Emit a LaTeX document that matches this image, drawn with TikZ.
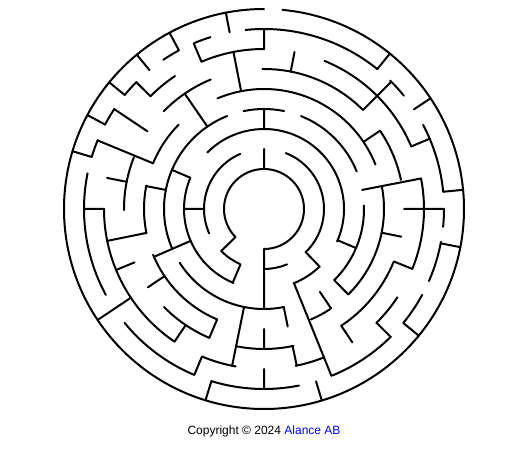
\documentclass[tikz,border=0pt]{standalone}
\usepackage{fontspec}
\setmainfont{Liberation Sans}
\begin{document}
\begin{tikzpicture}[x=1pt,y=1pt,wall/.style={line width=2pt,line cap=round,line join=round}]
		\useasboundingbox (0,0) rectangle (512,448);
		\begin{scope}[shift={(264,239)}]
		% circles, inside out
		\draw[wall] (-90:40) arc (-90:224.5:40);
		\draw[wall] (113.3:60) arc (113.3:204:60) (224.6:60) arc (224.6:246:60) (270:60) arc (270:292.6:60) (-46:60) arc (-46:68.7:60);
		\draw[wall] (-24:80) arc (-24:135:80) (157:80) arc (157:247.6:80) (291.7:80) arc (291.7:314:80);
		\draw[wall] (78.4:100) arc (78.4:101.8:100) (111.6:100) arc (111.6:203:100) (212.5:100) arc (212.5:281.5:100) (-45.4:100) arc (-45.4:2:100) (22:100) arc (22:68.3:100);
		\draw[wall] (21.8:120) arc (21.8:112.8:120) (-45.4:120) arc (-45.4:10.7:120) (135.3:120) arc (135.3:157.7:120) (168.7:120) arc (168.7:191.7:120) (202.4:120) arc (202.4:247:120) (293:120) arc (293:303.4:120);
		\draw[wall] (45:140) arc (45:90.7:140) (12:140) arc (12:33.5:140) (112.4:140) arc (112.4:135.7:140) (158.3:140) arc (158.3:180.5:140) (224.4:140) arc (224.4:247:140) (259:140) arc (259:282.2:140) (303.5:140) arc (303.5:337.7:140);
		\draw[wall] (23:160) arc (23:67.8:160) (-21.8:160) arc (-21.8:11:160) (90:160) arc (90:113:160) (123.8:160) arc (123.8:135.3:160) (180:160) arc (180:236:160) (247.3:160) arc (247.3:259.8:160) (281.4:160) arc (281.4:292:160) (314.6:160) arc (314.6:326.5:160);
		\draw[wall] (51:180) arc (51:95.9:180) (107.3:180) arc (107.3:112.6:180) (118.4:180) arc (118.4:124:180) (135.1:180) arc (135.1:140.7:180) (146.2:180) arc (146.2:152.1:180) (157.5:180) arc (157.5:163.2:180) (168.6:180) arc (168.6:208.5:180) (219.2:180) arc (219.2:247.1:180) (253:180) arc (253:281.2:180) (292.4:180) arc (292.4:314.8:180) (320.8:180) arc (320.8:331.5:180) (336.4:180) arc (336.4:349.5:180) (-5.7:180) arc (-5.7:0:180) (5.5:180) arc (5.5:27.9:180) (39:180) arc (39:45.5:180);
		\draw[wall] (90:200) arc (90:444.7:200); % outer wall, way in at the top
		% radial walls
		\draw[wall] (101:180)--(101:200) (118.2:180)--(118.2:200) (129.5:180)--(129.5:200) (140.7:180)--(140.7:200) (152:180)--(152:200) (163.2:180)--(163.2:200) (253:180)--(253:200) (286.8:180)--(286.8:200) (320.7:180)--(320.7:200) (349:180)--(349:200) (5.5:180)--(5.5:200) (33.6:180)--(33.6:200) (51:180)--(51:200) (213.7:160)--(213.7:200);
		\draw[wall] (90:160)--(90:180) (113:160)--(113:180) (135.2:160)--(135.2:180) (180:160)--(180:180) (247.2:160)--(247.2:180) (270:160)--(270:180) (314.7:160)--(314.7:180) (23:160)--(23:180) (146.3:140)--(146.3:180) (157.6:120)--(157.6:180) (0:140)--(0:180) (45:140)--(45:180) (292:80)--(292:180);
		\draw[wall] (79:140)--(79:160) (101:120)--(101:160) (168.8:140)--(168.8:160) (191.5:120)--(191.5:160) (202.4:140)--(202.4:160) (236:140)--(236:160) (258.5:100)--(258.5:160) (281.8:140)--(281.8:160) (303.5:140)--(303.5:160) (338:140)--(338:160) (11:100)--(11:160);
		\draw[wall] (124.5:100)--(124.5:140) (214:120)--(214:140) (247:120)--(247:140) (270:120)--(270:140) (348.6:120)--(348.6:140) (34:120)--(34:140);
		\draw[wall] (169:100)--(169:120) (203.5:80)--(203.5:120) (281.4:100)--(281.4:120) (304:100)--(304:120) (314.6:100)--(314.6:120);
		\draw[wall] (90:80)--(90:100) (157:80)--(157:100) (337:80)--(337:100) (180:60)--(180:80) (247:60)--(247:80) (314:60)--(314:80);
		\draw[wall] (90:40)--(90:60) (224.5:40)--(224.5:60) (270:40)--(270:100);
		\end{scope}
		\node[font=\fontsize{12}{14}\selectfont] (copyright) at (264,17) {Copyright © 2024 \textcolor{blue}{Alance AB}};
\end{tikzpicture}
\end{document}
